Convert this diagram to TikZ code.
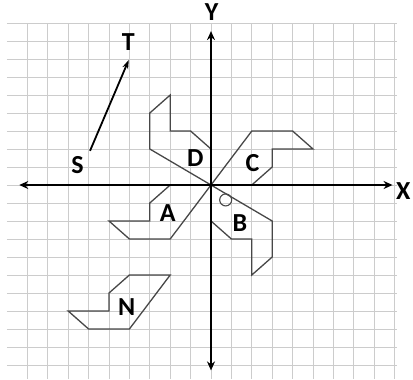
\documentclass[tikz,border=0pt]{standalone}
\usepackage{fontspec}
\setmainfont{Carlito}
\usetikzlibrary{arrows.meta}
\begin{document}
\begin{tikzpicture}[x=20.4pt,y=18pt,
  gridline/.style={gray!40, line width=0.7pt},
  axisline/.style={line width=2.2pt, {Stealth[length=9pt,width=8pt]}-{Stealth[length=9pt,width=8pt]}},
  fig/.style={draw=black!72, line width=1.3pt, line join=miter},
  lbl/.style={font=\fontsize{26}{26}\selectfont\bfseries, inner sep=0pt}]
\useasboundingbox (-10.343,-10.778) rectangle (9.902,10.278);
% grid
\foreach \y in {-10,...,9} \draw[gridline] (-10,\y) -- (9.1,\y);
\foreach \x in {-9,...,9} \draw[gridline] (\x,9) -- (\x,-10.8);
% shapes
\draw[fig] (0,0) -- (-3,2) -- (-3,4) -- (-2,5) -- (-2,3) -- (-1,3) -- (0,2) -- cycle;
\draw[fig] (0,0) -- (2,3) -- (4,3) -- (5,2) -- (3,2) -- (3,1) -- (2,0) -- cycle;
\draw[fig] (0,0) -- (3,-2) -- (3,-4) -- (2,-5) -- (2,-3) -- (1,-3) -- (0,-2) -- cycle;
\draw[fig] (0,0) -- (-2,-3) -- (-4,-3) -- (-5,-2) -- (-3,-2) -- (-3,-1) -- (-2,0) -- cycle;
\draw[fig] (-2,-5) -- (-4,-5) -- (-5,-6) -- (-5,-7) -- (-7,-7) -- (-6,-8) -- (-4,-8) -- cycle;
\draw[fig, line width=1.1pt] (0.72,-0.83) circle [radius=6pt];
% axes
\coordinate (xl) at (-9.4,0);
\coordinate (xr) at (8.9,0);
\coordinate (yb) at (0,-10.3);
\coordinate (yt) at (0,8.55);
\draw[axisline] (xl) -- (xr);
\draw[axisline] (yb) -- (yt);
% vector S T
\coordinate (sS) at (-5.93,1.9);
\coordinate (tT) at (-4.03,6.95);
\draw[line width=1.8pt, -{Stealth[length=9pt,width=6pt]}] (sS) -- (tT);
% labels
\node[lbl] (Ylab) at (0.03,9.63) {Y};
\node[lbl] (Xlab) at (9.43,-0.32) {X};
\node[lbl] (Tlab) at (-4.05,7.96) {T};
\node[lbl] (Slab) at (-6.54,1.13) {S};
\node[lbl] (Dlab) at (-0.77,1.52) {D};
\node[lbl] (Clab) at (2.03,1.2) {C};
\node[lbl] (Alab) at (-2.12,-1.57) {A};
\node[lbl] (Blab) at (1.42,-2.13) {B};
\node[lbl] (Nlab) at (-4.13,-6.8) {N};
\end{tikzpicture}
\end{document}
